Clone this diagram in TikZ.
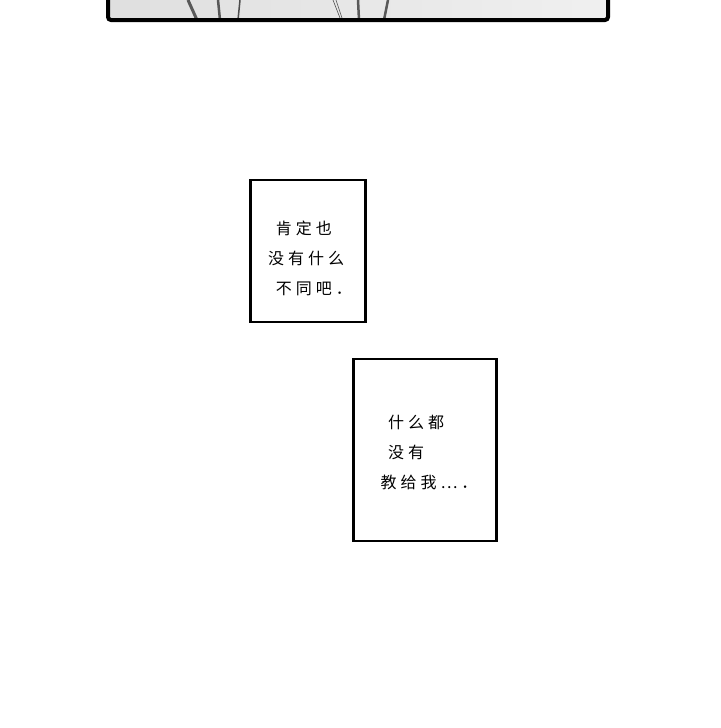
\documentclass[tikz,border=0pt]{standalone}
\usepackage{fontspec}
\newfontfamily\cjk[LetterSpace=25]{Noto Sans CJK SC}
\begin{document}
\begin{tikzpicture}[x=1pt,y=-1pt,
  txtbox/.style={draw=black,line width=2.2pt,fill=white},
  say/.style={font=\cjk\fontsize{16}{30}\selectfont,align=left,inner sep=0pt}]
\useasboundingbox (0,0) rectangle (720,728);
\fill[white] (0,0) rectangle (720,728);
\shade[left color=gray!25,right color=gray!12] (108,-10) rectangle (608,20);
\draw[gray!70!black,line width=3pt] (188,0) -- (197,20);
\draw[gray!70!black,line width=2.5pt] (218,0) -- (220,20);
\draw[gray!60!black,line width=1.5pt] (240,0) -- (238,20);
\draw[gray!60!black,line width=0.6pt] (333,0) -- (340,18) (336,0) -- (342,18);
\draw[gray!70!black,line width=2.5pt] (358,0) -- (359,20);
\draw[gray!70!black,line width=2.5pt] (388,0) -- (384,20);
\draw[black,line width=4pt,rounded corners=3pt] (108,-10) rectangle (608,20);
\node[txtbox,minimum width=115pt,minimum height=142pt] (b1) at (308,251) {};
\node[say] (t1) at (310,258) {\ 肯定也\\没有什么\\\ 不同吧．};
\node[txtbox,minimum width=143pt,minimum height=182pt] (b2) at (425,450) {};
\node[say,align=left] (t2) at (429,452) {\ 什么都\\\ 没有\\教给我…．};
\end{tikzpicture}
\end{document}
